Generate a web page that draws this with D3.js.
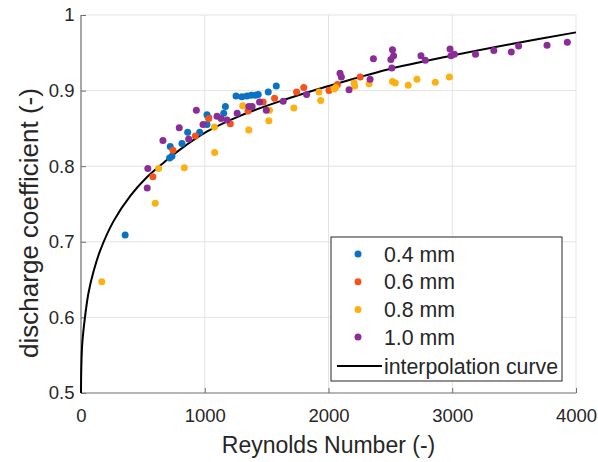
<!DOCTYPE html>
<html>
<head>
<meta charset="utf-8">
<script src="https://cdn.jsdelivr.net/npm/d3@7"></script>
<style>
  body { margin: 0; background: #fff; }
  text { font-family: "Liberation Sans", Arial, sans-serif; fill: #262626; }
</style>
</head>
<body>
<div id="chart"></div>
<script>
// measured points, one pair of arrays per orifice size
var re04 = [357, 716, 721, 735, 816, 862, 959, 1018, 1018, 1032, 1153, 1167, 1253, 1300, 1340, 1375, 1410, 1432, 1513, 1578];
var cd04 = [0.709, 0.811, 0.826, 0.813, 0.830, 0.845, 0.845, 0.855, 0.868, 0.864, 0.870, 0.879, 0.893, 0.892, 0.893, 0.894, 0.894, 0.895, 0.898, 0.906];

var re06 = [581, 743, 924, 1032, 1207, 1350, 1472, 1564, 1742, 1800, 2004, 2072, 2256];
var cd06 = [0.786, 0.821, 0.840, 0.863, 0.856, 0.873, 0.885, 0.890, 0.898, 0.904, 0.900, 0.908, 0.918];

var re08 = [168, 600, 627, 835, 1078, 1080, 1307, 1356, 1518, 1523, 1720, 1923, 1937, 2045, 2058, 2207, 2212, 2328, 2517, 2540, 2644, 2715, 2863, 2977];
var cd08 = [0.647, 0.751, 0.797, 0.798, 0.852, 0.818, 0.880, 0.848, 0.860, 0.874, 0.877, 0.898, 0.887, 0.902, 0.904, 0.910, 0.906, 0.909, 0.912, 0.910, 0.907, 0.915, 0.911, 0.918];

var re10 = [535, 540, 662, 794, 870, 932, 986, 1099, 1132, 1180, 1262, 1356, 1383, 1443, 1497, 1634, 1823, 2093, 2104, 2166, 2336, 2363, 2504, 2512, 2517, 2526, 2747, 2782, 2982, 2990, 3017, 3188, 3336, 3477, 3536, 3766, 3930];
var cd10 = [0.771, 0.797, 0.834, 0.851, 0.836, 0.874, 0.855, 0.866, 0.863, 0.861, 0.870, 0.879, 0.879, 0.885, 0.874, 0.886, 0.895, 0.923, 0.918, 0.901, 0.915, 0.942, 0.941, 0.930, 0.954, 0.946, 0.946, 0.940, 0.955, 0.946, 0.948, 0.948, 0.953, 0.951, 0.959, 0.960, 0.964];

// interpolation curve
var curveRe = [0, 2, 10, 32, 60, 100, 154, 262, 400, 530, 670, 800, 1020, 1290, 1610, 2000, 2480, 2990, 3490, 4000];
var curveCd = [0.5, 0.53, 0.565, 0.6, 0.632, 0.66, 0.688, 0.727, 0.761, 0.785, 0.805, 0.822, 0.846, 0.867, 0.886, 0.906, 0.928, 0.946, 0.962, 0.977];

var seriesNames = ["0.4 mm", "0.6 mm", "0.8 mm", "1.0 mm"];
var curveName = "interpolation curve";
var xTicks = [0, 1000, 2000, 3000, 4000];
var yTicks = [0.5, 0.6, 0.7, 0.8, 0.9, 1];

var colors = ["#0a72c2", "#f4531a", "#fdb010", "#8b2d97"];

var margin = {top: 15, right: 22, bottom: 69, left: 81};
var width = 598 - margin.left - margin.right;
var height = 462 - margin.top - margin.bottom;

var x = d3.scaleLinear().domain([0, 4000]).range([0, width]);
var y = d3.scaleLinear().domain([0.5, 1]).range([height, 0]);

var svg = d3.select("#chart").append("svg")
    .attr("width", 598)
    .attr("height", 462)
  .append("g")
    .attr("transform", "translate(" + margin.left + "," + margin.top + ")");

// grid
svg.selectAll(".gx").data(xTicks.slice(1)).enter().append("line")
    .attr("x1", function(d){ return x(d); })
    .attr("x2", function(d){ return x(d); })
    .attr("y1", 0).attr("y2", height)
    .attr("stroke", "#e3e3e3");
svg.selectAll(".gy").data(yTicks.slice(1)).enter().append("line")
    .attr("y1", function(d){ return y(d); })
    .attr("y2", function(d){ return y(d); })
    .attr("x1", 0).attr("x2", width)
    .attr("stroke", "#e3e3e3");

// axes, ticks point inward like matlab
var xAxis = d3.axisBottom(x).tickValues(xTicks).tickSize(-5).tickPadding(16).tickFormat(d3.format("d"));
var yAxis = d3.axisLeft(y).tickValues(yTicks).tickSize(-5).tickPadding(6.5)
    .tickFormat(function(d){ return d === 1 ? "1" : d.toFixed(1); });

var gx = svg.append("g")
    .attr("transform", "translate(0," + height + ")")
    .call(xAxis);
var gy = svg.append("g").call(yAxis);

[gx, gy].forEach(function(g){
  g.select(".domain").attr("stroke", "#6e6e6e").attr("stroke-width", 1.2);
  g.selectAll(".tick line").attr("stroke", "#6e6e6e");
  g.selectAll(".tick text").style("font-size", "18.5px").attr("fill", "#262626");
});
gx.select(".domain").attr("d", "M0,0H" + width);
gy.select(".domain").attr("d", "M0," + height + "V0");

// the curve
var line = d3.line()
    .x(function(d){ return x(d[0]); })
    .y(function(d){ return y(d[1]); })
    .curve(d3.curveCatmullRom.alpha(0.5));

svg.append("path")
    .datum(d3.zip(curveRe, curveCd))
    .attr("fill", "none")
    .attr("stroke", "#000")
    .attr("stroke-width", 2)
    .attr("d", line);

// points
var allRe = [re04, re06, re08, re10];
var allCd = [cd04, cd06, cd08, cd10];
allRe.forEach(function(reArr, i){
  svg.append("g").selectAll("circle")
      .data(d3.zip(reArr, allCd[i]))
      .enter().append("circle")
      .attr("cx", function(d){ return x(d[0]); })
      .attr("cy", function(d){ return y(d[1]); })
      .attr("r", 3.5)
      .attr("fill", colors[i]);
});

// axis labels
svg.append("text")
    .text("Reynolds Number (-)")
    .attr("x", width / 2)
    .attr("y", 453 - margin.top)
    .style("font-size", "23px")
    .style("text-anchor", "middle");

svg.append("text")
    .text("discharge coefficient (-)")
    .attr("transform", "translate(" + (38 - margin.left) + "," + (223 - margin.top) + ") rotate(-90)")
    .style("font-size", "26px")
    .style("text-anchor", "middle");

// legend
var lx = 331 - margin.left, ly = 237 - margin.top;
var legend = svg.append("g").attr("transform", "translate(" + lx + "," + ly + ")");
legend.append("rect")
    .attr("width", 231).attr("height", 144)
    .attr("fill", "#fff")
    .attr("stroke", "#262626");

seriesNames.forEach(function(name, i){
  legend.append("circle")
      .attr("cx", 27).attr("cy", 17 + i * 27.7)
      .attr("r", 3.5)
      .attr("fill", colors[i]);
  legend.append("text")
      .text(name)
      .attr("x", 53).attr("y", 17 + i * 27.7 + 7.5)
      .style("font-size", "21.3px");
});
legend.append("line")
    .attr("x1", 6).attr("x2", 51)
    .attr("y1", 129).attr("y2", 129)
    .attr("stroke", "#000").attr("stroke-width", 2);
legend.append("text")
    .text(curveName)
    .attr("x", 53).attr("y", 136.5)
    .style("font-size", "21.3px");
</script>
</body>
</html>
